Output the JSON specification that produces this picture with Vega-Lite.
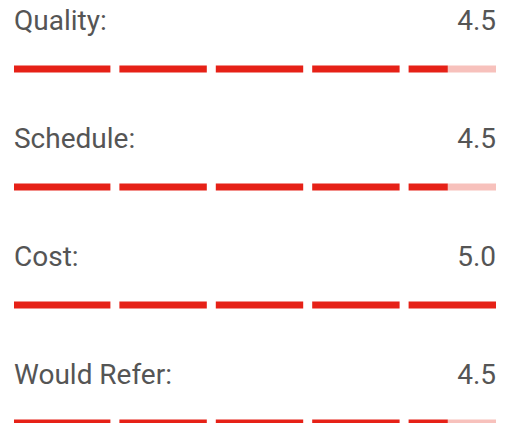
{
  "$schema": "https://vega.github.io/schema/vega-lite/v6.json",
  "width": 511,
  "height": 423,
  "autosize": "none",
  "padding": 0,
  "background": "white",
  "config": {"view": {"stroke": null}},
  "datasets": {
    "ratings": [
      {"label": "Quality:", "score": 4.5, "min": 0, "max": 5},
      {"label": "Schedule:", "score": 4.5, "min": 0, "max": 5},
      {"label": "Cost:", "score": 5.0, "min": 0, "max": 5},
      {"label": "Would Refer:", "score": 4.5, "min": 0, "max": 5}
    ],
    "gaps": [
      {"label": "Quality:", "b": 1}, {"label": "Quality:", "b": 2}, {"label": "Quality:", "b": 3}, {"label": "Quality:", "b": 4},
      {"label": "Schedule:", "b": 1}, {"label": "Schedule:", "b": 2}, {"label": "Schedule:", "b": 3}, {"label": "Schedule:", "b": 4},
      {"label": "Cost:", "b": 1}, {"label": "Cost:", "b": 2}, {"label": "Cost:", "b": 3}, {"label": "Cost:", "b": 4},
      {"label": "Would Refer:", "b": 1}, {"label": "Would Refer:", "b": 2}, {"label": "Would Refer:", "b": 3}, {"label": "Would Refer:", "b": 4}
    ]
  },
  "layer": [
    {
      "data": {"name": "ratings"},
      "mark": {"type": "rule", "strokeWidth": 7, "strokeCap": "butt", "color": "#f7c1bc"},
      "encoding": {
        "y": {"field": "label", "type": "nominal", "sort": ["Quality:", "Schedule:", "Cost:", "Would Refer:"], "scale": {"type": "point", "padding": 0.2924, "align": 1}, "axis": null},
        "x": {"field": "score", "type": "quantitative", "scale": {"domain": [-0.1452, 5.1556], "zero": false, "nice": false}, "axis": null},
        "x2": {"field": "max"}
      }
    },
    {
      "data": {"name": "ratings"},
      "mark": {"type": "rule", "strokeWidth": 7, "strokeCap": "butt", "color": "#e62117"},
      "encoding": {
        "y": {"field": "label", "type": "nominal", "sort": ["Quality:", "Schedule:", "Cost:", "Would Refer:"]},
        "x": {"field": "min", "type": "quantitative"},
        "x2": {"field": "score"}
      }
    },
    {
      "data": {"name": "gaps"},
      "mark": {"type": "tick", "orient": "vertical", "thickness": 9, "size": 14, "color": "white", "opacity": 1, "xOffset": 4.5},
      "encoding": {
        "y": {"field": "label", "type": "nominal", "sort": ["Quality:", "Schedule:", "Cost:", "Would Refer:"]},
        "x": {"field": "b", "type": "quantitative"}
      }
    },
    {
      "data": {"name": "ratings"},
      "mark": {"type": "text", "align": "left", "baseline": "alphabetic", "font": "Roboto", "fontSize": 28, "color": "#555555", "yOffset": -39.5},
      "encoding": {
        "y": {"field": "label", "type": "nominal", "sort": ["Quality:", "Schedule:", "Cost:", "Would Refer:"]},
        "x": {"field": "min", "type": "quantitative"},
        "text": {"field": "label"}
      }
    },
    {
      "data": {"name": "ratings"},
      "mark": {"type": "text", "align": "right", "baseline": "alphabetic", "font": "Roboto", "fontSize": 28, "color": "#555555", "yOffset": -39.5},
      "encoding": {
        "y": {"field": "label", "type": "nominal", "sort": ["Quality:", "Schedule:", "Cost:", "Would Refer:"]},
        "x": {"field": "max", "type": "quantitative"},
        "text": {"field": "score", "format": ".1f"}
      }
    }
  ]
}
